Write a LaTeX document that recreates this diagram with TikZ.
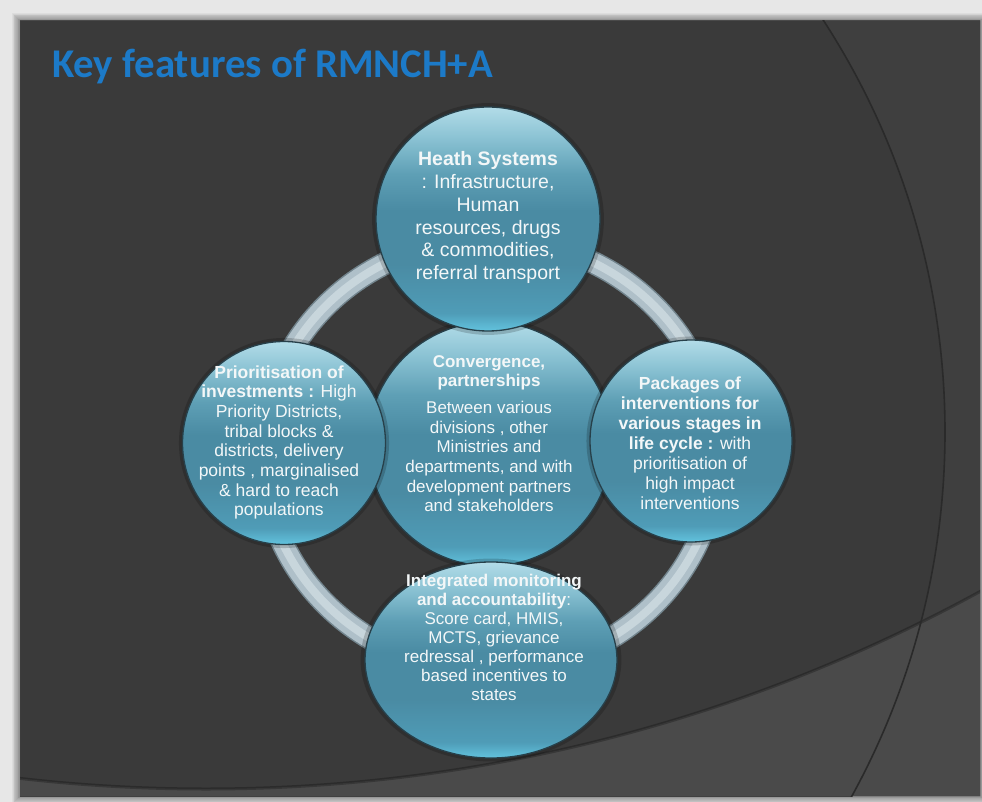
\documentclass[tikz,border=0pt]{standalone}
\usepackage{fontspec}
\setmainfont{Liberation Sans}
\newfontfamily\titlefont{Carlito}
\usetikzlibrary{shapes.geometric,shadows}

% palette
\definecolor{frame}{HTML}{E7E7E7}
\definecolor{slide}{HTML}{3A3A3A}
\definecolor{slideR}{HTML}{3F3F3F}
\definecolor{band}{HTML}{4A4A4A}
\definecolor{arcline}{HTML}{2A2A2A}
\definecolor{titleblue}{RGB}{28,122,200}
\definecolor{bTop}{HTML}{B2DCE8}
\definecolor{bUp}{HTML}{8AC2D3}
\definecolor{bUp2}{HTML}{5E9FB5}
\definecolor{bMid}{HTML}{4A8BA3}
\definecolor{bLow}{HTML}{4F9CB7}
\definecolor{bBot}{HTML}{62C3DE}
\definecolor{bEdge}{HTML}{27404A}
\definecolor{ringEdge}{HTML}{72848D}
\definecolor{ringFill}{HTML}{AFC0C9}
\definecolor{ringLight}{HTML}{C8D6DC}
\definecolor{bubbleink}{HTML}{F3F7F8}

% glossy fill of the bubbles (bottom to top)
\pgfdeclareverticalshading{bubble}{100bp}{color(0bp)=(bBot); color(25bp)=(bBot);
  color(29bp)=(bLow); color(40bp)=(bMid); color(52bp)=(bMid);
  color(60bp)=(bUp2); color(68bp)=(bUp); color(75bp)=(bTop); color(100bp)=(bTop)}

\tikzset{
  bubble/.style={shading=bubble, draw=bEdge, line width=1.3pt, inner sep=0pt,
    general shadow={fill=black, opacity=.18, shadow scale=1.035}},
  bubbletext/.style={anchor=base, inner sep=0pt, text=bubbleink},
  ringpart/.style={ellipse, minimum width=454pt, minimum height=432pt, inner sep=0pt},
}

\begin{document}
\begin{tikzpicture}[x=1pt, y=-1pt]
\useasboundingbox (0,0) rectangle (982,802);

% page and slide
\fill[frame] (0,0) rectangle (982,802);
\foreach \i in {1,...,10} {
  \fill[black, opacity=.045] (20-\i*0.8, 21-\i*0.8) rectangle (980+\i*0.8, 796+\i*0.8);
}
\begin{scope}
  \clip (20,21) rectangle (980,796);
  \fill[slide] (20,21) rectangle (980,796);
  \fill[slideR, even odd rule] (20,21) rectangle (980,796) (188,432) circle [radius=757];
  \fill[band, even odd rule] (20,21) rectangle (980,796) (206,-824) circle [radius=1613];
  \draw[black, opacity=.25, line width=3pt] (206,-824) circle [radius=1613];
  \draw[arcline, line width=1.6pt] (188,432) circle [radius=757];
\end{scope}

% title
\node[anchor=base west, inner sep=0pt, text=titleblue,
      font=\titlefont\bfseries\fontsize{40.8}{41}\selectfont] (title) at (52,78) {Key features of RMNCH+A};

% ring linking the bubbles
\node[ringpart, draw=ringEdge, line width=23pt] (ring) at (490,455) {};
\node[ringpart, draw=ringFill, line width=20pt] (ringbody) at (ring.center) {};
\node[ringpart, draw=ringLight, line width=8pt] (ringsheen) at (ring.center) {};

% bubbles
\node[bubble, circle, minimum size=244pt] (hub) at (490,444) {};
\node[bubble, circle, minimum size=224pt] (health) at (488,219) {};
\node[bubble, circle, minimum size=203pt] (priority) at (284,443) {};
\node[bubble, circle, minimum size=202pt] (packages) at (691,441) {};
\node[bubble, ellipse, minimum width=252pt, minimum height=196pt] (monitor) at (491,660) {};

% bubble texts
\node[bubbletext] (healthtext) at (488,166) {\parbox[t]{220pt}{\centering\fontsize{19.5}{22.7}\selectfont
  \textbf{Heath Systems}\\ : Infrastructure,\\ Human\\ resources, drugs\\ \& commodities,\\ referral transport}};

\node[bubbletext] (prioritytext) at (279,378) {\parbox[t]{190pt}{\centering\fontsize{17.5}{19.7}\selectfont
  \textbf{Prioritisation of}\\ \textbf{investments :} High\\ Priority Districts,\\ tribal blocks \&\\
  districts, delivery\\ points , marginalised\\ \& hard to reach\\ populations}};

\node[bubbletext] (hubtext) at (489,367) {\parbox[t]{220pt}{\centering\fontsize{17}{19.6}\selectfont
  \textbf{Convergence,}\\ \textbf{partnerships}\\[7.4pt] Between various\\ divisions , other\\ Ministries and\\
  departments, and with\\ development partners\\ and stakeholders}};

\node[bubbletext] (packagestext) at (690,389) {\parbox[t]{190pt}{\centering\fontsize{17.5}{20}\selectfont
  \textbf{Packages of}\\ \textbf{interventions for}\\ \textbf{various stages in}\\ \textbf{life cycle :} with\\
  prioritisation of\\ high impact\\ interventions}};

\node[bubbletext] (monitortext) at (494,586) {\parbox[t]{230pt}{\centering\fontsize{17}{19.1}\selectfont
  \textbf{Integrated monitoring}\\ \textbf{and accountability}:\\ Score card, HMIS,\\ MCTS, grievance\\
  redressal , performance\\ based incentives to\\ states}};
\end{tikzpicture}
\end{document}
